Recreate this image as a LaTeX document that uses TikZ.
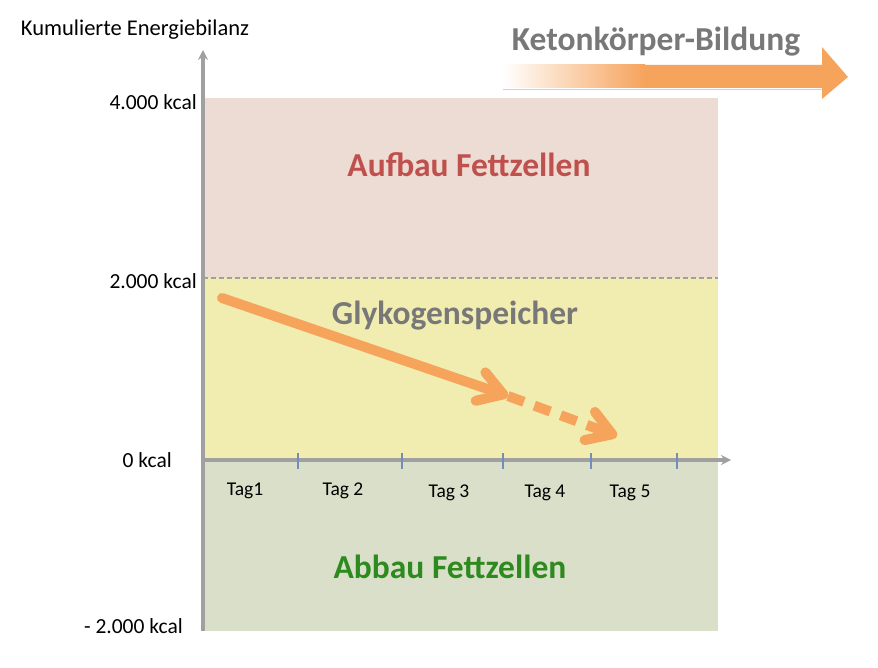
\documentclass[tikz,border=0pt]{standalone}
\usepackage{fontspec}
\setmainfont{Carlito}
\usetikzlibrary{positioning, arrows.meta, calc}
\definecolor{bgauf}{RGB}{236,220,211}
\definecolor{bgglyk}{RGB}{241,237,176}
\definecolor{bgab}{RGB}{217,223,201}
\definecolor{axgrey}{RGB}{160,160,160}
\definecolor{tickblue}{RGB}{112,142,184}
\definecolor{ketor}{RGB}{246,163,92}
\definecolor{txtred}{RGB}{192,80,77}
\definecolor{txtgrey}{RGB}{120,120,120}
\definecolor{txtgreen}{RGB}{44,138,30}
\tikzset{
  axis/.style  = {draw=axgrey, line width=3.2pt, -{Stealth[length=10pt, width=10pt]}},
  tck/.style   = {draw=tickblue, line width=1.8pt},
  ylab/.style  = {font=\fontsize{21.5}{24}\selectfont, anchor=east, inner sep=2pt},
  daylab/.style= {font=\fontsize{19.5}{22}\selectfont, inner sep=0pt},
  zone/.style  = {font=\bfseries\fontsize{33.5}{38}\selectfont, inner sep=0pt},
  trend/.style = {draw=ketor, line width=10pt, line cap=round},
  barb/.style  = {-{Straight Barb[length=24pt, width=30pt, line join=round, line cap=round]}},
}

\begin{document}
\begin{tikzpicture}[x=1pt, y=-1pt]
  \useasboundingbox (0,0) rectangle (878,668);
  % ---- areas ----
  \fill[bgauf]  (203,98)  rectangle (718,278);
  \fill[bgglyk] (203,278) rectangle (718,460);
  \fill[bgab]   (203,460) rectangle (718,631);
  \draw[axgrey, line width=2pt, dashed, dash pattern=on 5pt off 3pt] (203,278) -- (718,278);

  % ---- axes ----
  \coordinate (o) at (203,460);
  \coordinate (ybot) at (203,631);
  \coordinate (ytop) at (203,50);
  \coordinate (xend) at (731,460);
  \draw[axis] (ybot) -- (ytop);
  \draw[axis] (o) -- (xend);
  \foreach \x [count=\i] in {298,402,503,591,677}
    \draw[tck] (\x,453) -- (\x,469);
  \node[daylab] (d1) at (245,491) {Tag1};
  \node[daylab] (d2) at (343,491) {Tag 2};
  \node[daylab] (d3) at (449,493) {Tag 3};
  \node[daylab] (d4) at (545,493) {Tag 4};
  \node[daylab] (d5) at (630,493) {Tag 5};

  % ---- y labels ----
  \node[ylab] (l4) at (199,102) {4.000 kcal};
  \node[ylab] (l2) at (199,281) {2.000 kcal};
  \node[ylab] (l0) at (174,460) {0 kcal};
  \node[ylab] (lm) at (185,626) {- 2.000 kcal};
  \node[font=\fontsize{22.5}{26}\selectfont] (ytitle) at (135,30) {Kumulierte Energiebilanz};

  % ---- zones ----
  \node[zone, txtred]   (auf)  at (469,165) {Aufbau Fettzellen};
  \node[zone, txtgrey]  (glyk) at (455,316) {Glykogenspeicher};
  \node[zone, txtgreen] (ab)   at (450,567) {Abbau Fettzellen};

  % ---- trend arrow ----
  \coordinate (t0) at (222,298);
  \coordinate (t1) at (508,396);
  \coordinate (t2) at (617,436);
  \draw[trend, barb] (t0) -- (t1);
  \draw[trend, barb, line cap=butt, dash pattern=on 17pt off 11pt] (t1) -- (t2);

  % ---- ketone arrow ----
  \fill[ketor] (560,65) -- (822,65) -- (822,47) -- (848,77) -- (822,99)
    -- (822,88) -- (560,88) -- cycle;
  \shade[left color=white, right color=ketor] (503,65) rectangle (645,88);
  \draw[black!18, line width=1.2pt] (503,89.5) -- (822,89.5);
  \node[font=\bfseries\fontsize{33.5}{38}\selectfont, txtgrey] (keto) at (656,42) {Ketonkörper-Bildung};
\end{tikzpicture}
\end{document}
